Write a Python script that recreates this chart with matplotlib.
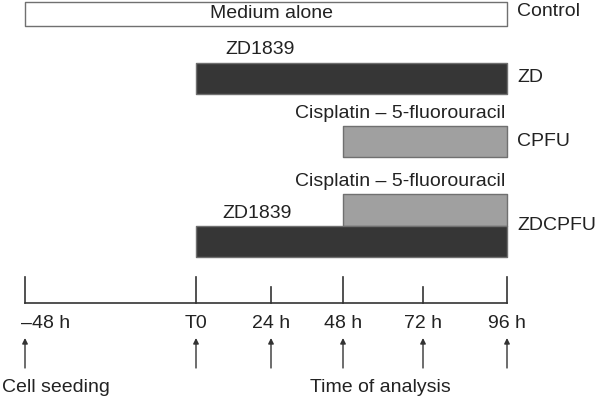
import numpy as np
import matplotlib
matplotlib.use("Agg")
import matplotlib.pyplot as plt
from matplotlib.transforms import blended_transform_factory

# timeline (hours) and labels
tick_hours = [-48, 0, 24, 48, 72, 96]
tick_labels = ["\u201348 h", "T0", "24 h", "48 h", "72 h", "96 h"]
major_hours = [-48, 0, 48, 96]
minor_hours = [24, 72]
arrow_hours = [-48, 0, 24, 48, 72, 96]

# treatment groups: (start h, end h)
groups = ["Control", "ZD", "CPFU", "ZDCPFU"]
control_span = (-48, 96)
zd_span = (0, 96)
cpfu_span = (48, 96)
zdcpfu_zd_span = (0, 96)
zdcpfu_cp_span = (48, 96)

# the drawing is not exactly linear in time, map hours to a horizontal position
anchor_h = np.array([-200, -48, 0, 24, 48, 72, 96, 250])
anchor_p = np.array([-522, 25, 196, 271, 343, 423, 507, 1046])


def fwd(h):
    return np.interp(h, anchor_h, anchor_p)


def inv(p):
    return np.interp(p, anchor_p, anchor_h)


plt.rcParams["font.family"] = ["Liberation Sans", "DejaVu Sans"]
plt.rcParams["font.size"] = 14
plt.rcParams["text.color"] = "#222222"

fig = plt.figure(figsize=(6, 4.01), dpi=100)
ax = fig.add_axes([0, 0, 1, 1])
ax.set_xscale("function", functions=(fwd, inv))
ax.set_xlim(inv(0), inv(600))
ax.set_ylim(401, 0)
ax.axis("off")

dark = "#363636"
grey = "#a0a0a0"
edge = "#707070"


def bar(span, top, bottom, color):
    ax.fill_between(span, top, bottom, facecolor=color, edgecolor=edge, linewidth=1)


# rows (y in pixel-like units, top down)
bar(control_span, 1.5, 26, "white")
ax.text(np.mean(inv(np.array([25, 507]))), 13, "Medium alone", ha="center", va="center")

bar(zd_span, 63, 94, dark)
ax.text(inv(260), 50, "ZD1839", ha="center", va="center")

bar(cpfu_span, 126, 157, grey)
ax.text(inv(505), 114, "Cisplatin \u2013 5-fluorouracil", ha="right", va="center")

bar(zdcpfu_cp_span, 194, 226, grey)
bar(zdcpfu_zd_span, 226, 257, dark)
ax.text(inv(505), 182, "Cisplatin \u2013 5-fluorouracil", ha="right", va="center")
ax.text(inv(257), 214, "ZD1839", ha="center", va="center")

# group labels on the right
tr = blended_transform_factory(ax.transAxes, ax.transData)
for name, y in zip(groups, [12, 77, 141, 225]):
    ax.text(517 / 600, y, name, transform=tr, ha="left", va="center")

# timeline axis
ax.plot([tick_hours[0], tick_hours[-1]], [303, 303], color="#333333", lw=1.2)
for h in major_hours:
    ax.plot([h, h], [277, 303], color="#333333", lw=1.2)
for h in minor_hours:
    ax.plot([h, h], [287, 303], color="#333333", lw=1.2)

for h, lab in zip(tick_hours, tick_labels):
    if h == tick_hours[0]:
        ax.annotate(lab, (h, 324), xytext=(-3, 0), textcoords="offset points",
                    ha="left", va="center")
    else:
        ax.text(h, 324, lab, ha="center", va="center")

for h in arrow_hours:
    ax.annotate("", xy=(h, 338), xytext=(h, 368),
                arrowprops=dict(arrowstyle="-|>", color="#333333", lw=1,
                                mutation_scale=8, shrinkA=0, shrinkB=0))

ax.text(inv(2), 387, "Cell seeding", ha="left", va="center")
ax.text(inv(380), 387, "Time of analysis", ha="center", va="center")

fig.savefig("out.png", dpi=100)
